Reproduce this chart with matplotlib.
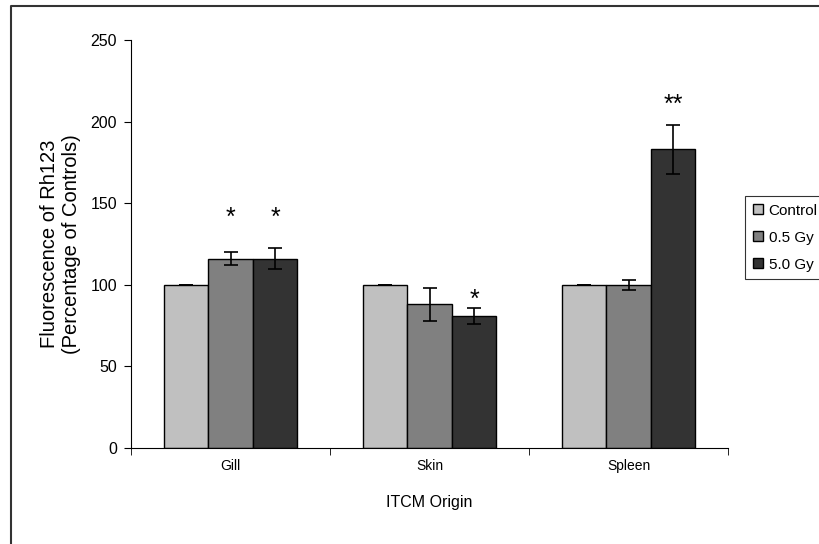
import matplotlib.pyplot as plt
import matplotlib.lines as mlines
import numpy as np

plt.rcParams['font.family'] = ['Liberation Sans', 'DejaVu Sans']

################################################################################

origins = ['Gill', 'Skin', 'Spleen']
series = ['Control', '0.5 Gy', '5.0 Gy']
colors = ['#c0c0c0', '#808080', '#333333']

control = [100, 100, 100]
gy05 = [116, 88, 100]
gy50 = [116, 81, 183]

control_err = [0, 0, 0]
gy05_err = [4, 10, 3]
gy50_err = [6.5, 5, 15]

# significance marks: (group, series, label, y)
marks = [(0, 1, '*', 141), (0, 2, '*', 141), (1, 2, '*', 91), (2, 2, '**', 210)]

################################################################################

fig = plt.figure(figsize=(8.19, 5.44), dpi=100)
ax = fig.add_axes([131/819, 1 - 448/544, (728-131)/819, 408/544])

# outer frame (left and top edges only, rest is cropped)
fx = 11/819
fy = 1 - 6/544
fig.lines.append(mlines.Line2D([fx, fx, 1.01], [-0.01, fy, fy], transform=fig.transFigure,
	color='#333333', lw=1.5))

x = np.arange(len(origins))
w = 0.224
vals = [control, gy05, gy50]
errs = [control_err, gy05_err, gy50_err]
bars = []
for i in range(3):
	b = ax.bar(x + (i-1)*w, vals[i], w, color=colors[i], edgecolor='black', lw=1,
		yerr=errs[i], capsize=5, error_kw=dict(elinewidth=1.2, capthick=1.2, ecolor='black'))
	bars.append(b)

for g, s, lab, y in marks:
	ax.text(x[g] + (s-1)*w, y, lab, ha='center', va='center', fontsize=18)

ax.set_xlim(-0.5, 2.5)
ax.set_ylim(0, 250)
ax.set_yticks(range(0, 251, 50))
ax.set_xticks(x)
ax.set_xticklabels(origins, fontsize=10)
ax.set_xticks([-0.5, 0.5, 1.5, 2.5], minor=True)
ax.tick_params(axis='x', which='major', length=0, pad=8)
ax.tick_params(axis='x', which='minor', length=5, direction='out')
ax.tick_params(axis='y', labelsize=11.5, length=5, direction='out', pad=5)
ax.spines['top'].set_visible(False)
ax.spines['right'].set_visible(False)

ax.set_ylabel('Fluorescence of Rh123\n(Percentage of Controls)', fontsize=14.5, labelpad=7)
ax.set_xlabel('ITCM Origin', fontsize=11.5, labelpad=16)

leg = fig.legend([b[0] for b in bars], series, loc='upper left',
	bbox_to_anchor=(745/819, 1 - 196/544), fontsize=11, frameon=True, fancybox=False,
	edgecolor='black', handlelength=0.65, handleheight=0.65, handletextpad=0.4,
	borderpad=0.5, labelspacing=0.85, borderaxespad=0)
leg.get_frame().set_linewidth(0.8)

fig.savefig('out.png', dpi=100)
